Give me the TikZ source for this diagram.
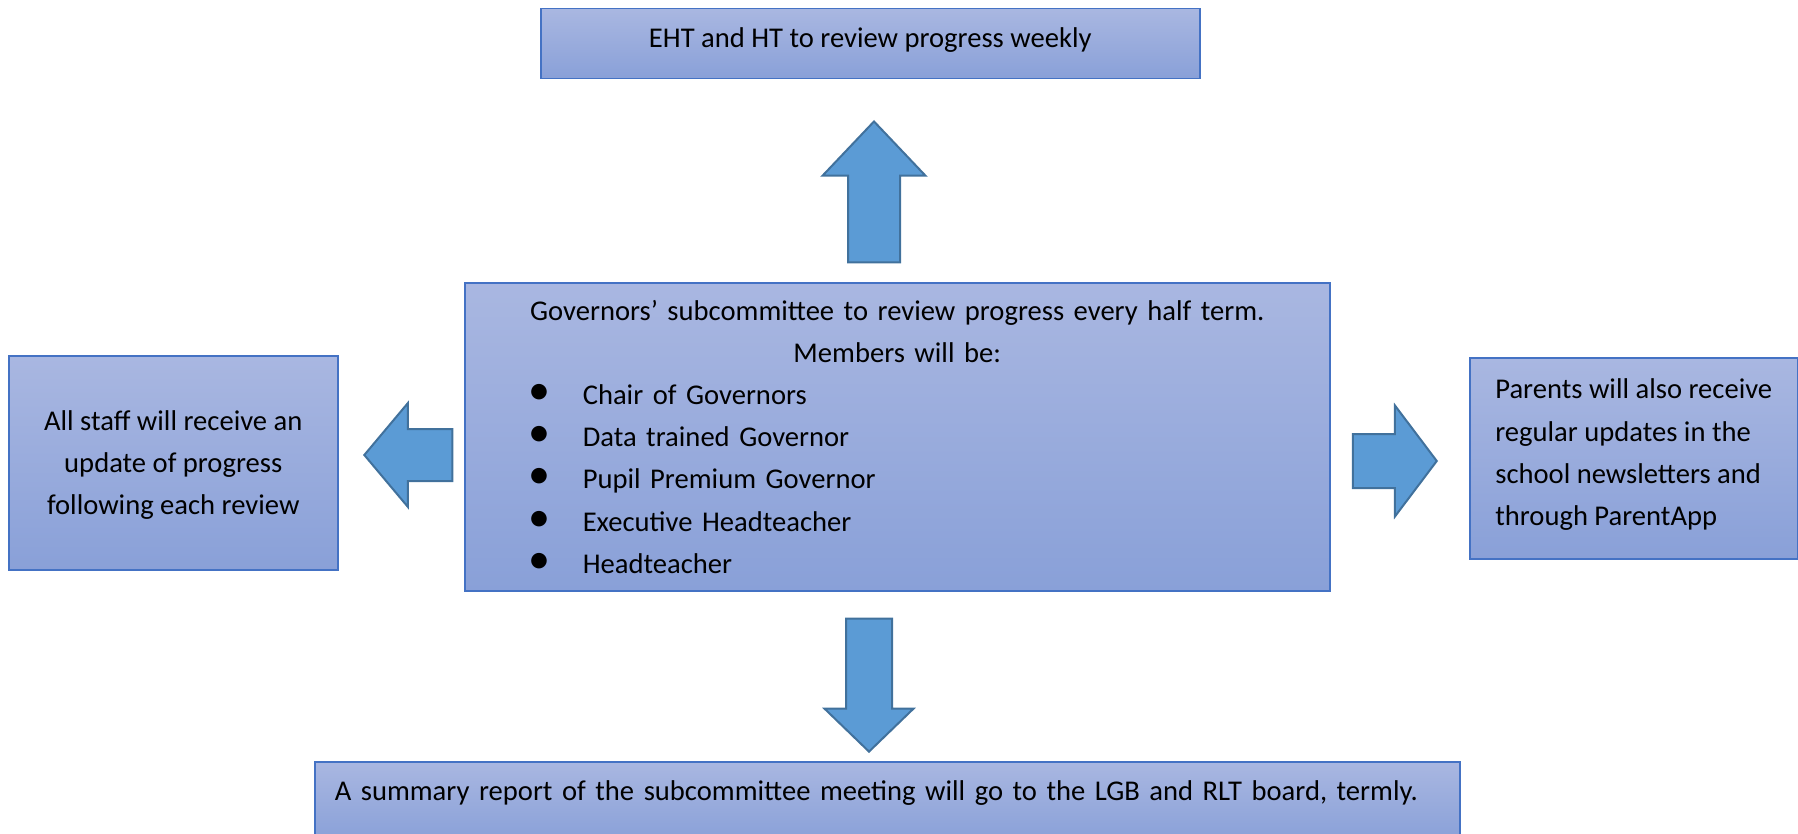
\documentclass[tikz,border=0pt]{standalone}
\usepackage{fontspec}
\setmainfont{Carlito}
\usetikzlibrary{shapes.arrows}
\definecolor{boxtop}{RGB}{169,183,225}
\definecolor{boxbot}{RGB}{137,160,216}
\definecolor{boxedge}{RGB}{68,114,196}
\definecolor{arrfill}{RGB}{91,155,213}
\definecolor{arredge}{RGB}{65,113,156}
\newcommand{\txt}{\fontsize{14.3}{21.1}\selectfont}
\newcommand{\member}[1]{\makebox[\linewidth][l]{\hspace*{16pt}\makebox[43pt]{{\fontsize{22}{21}\selectfont\textbullet}}#1}}
\tikzset{
  box/.style={draw=boxedge,line width=0.75pt,top color=boxtop,bottom color=boxbot,inner sep=0pt,font=\txt,anchor=north west},
  blockarr/.style={single arrow,draw=arredge,line width=1pt,fill=arrfill,inner xsep=0pt,minimum width=0pt,anchor=tip},
}

\begin{document}
\begin{tikzpicture}[x=0.5pt,y=-0.5pt]
  \useasboundingbox (0,0) rectangle (1798,834);
  % the five boxes
  \node[box,minimum width=329.5pt,minimum height=35pt,text depth=6.5pt] (weekly) at (540,8)
    {EHT and HT to review progress weekly};
  \node[box,minimum width=432.5pt,minimum height=154pt,text width=432.5pt,align=center] (subcom) at (464,282)
    {Governors’ subcommittee to review progress every half term.\\
     Members will be:\\
     \member{Chair of Governors}\\
     \member{Data trained Governor}\\
     \member{Pupil Premium Governor}\\
     \member{Executive Headteacher}\\
     \member{Headteacher}};
  \node[box,minimum width=164.5pt,minimum height=107pt,align=center,text depth=-6pt] (staff) at (8,355)
    {All staff will receive an\\ update of progress\\ following each review};
  \node[box,minimum width=164pt,minimum height=100.5pt,align=left,text depth=6pt] (parents) at (1469,357)
    {Parents will also receive\\ regular updates in the\\ school newsletters and\\ through ParentApp};
  \node[box,minimum width=572.5pt,minimum height=40pt,inner xsep=10pt,text width=552.5pt,align=left,
        text height=10pt,text depth=11pt] (summary) at (314,761)
    {A summary report of the subcommittee meeting will go to the LGB and RLT board, termly.};
  % block arrows out of the subcommittee
  \node[blockarr,rotate=90,minimum height=70.5pt,inner ysep=12.5pt,
        single arrow head extend=12.75pt,single arrow tip angle=87] (toWeekly) at (874,120) {};
  \node[blockarr,rotate=180,minimum height=44pt,inner ysep=12.5pt,
        single arrow head extend=13pt,single arrow tip angle=100] (toStaff) at (363,455) {};
  \node[blockarr,minimum height=42pt,inner ysep=13pt,
        single arrow head extend=14.25pt,single arrow tip angle=106] (toParents) at (1438,461) {};
  \node[blockarr,rotate=-90,minimum height=66.5pt,inner ysep=11pt,
        single arrow head extend=10.75pt,single arrow tip angle=92] (toSummary) at (869,753) {};
\end{tikzpicture}
\end{document}
